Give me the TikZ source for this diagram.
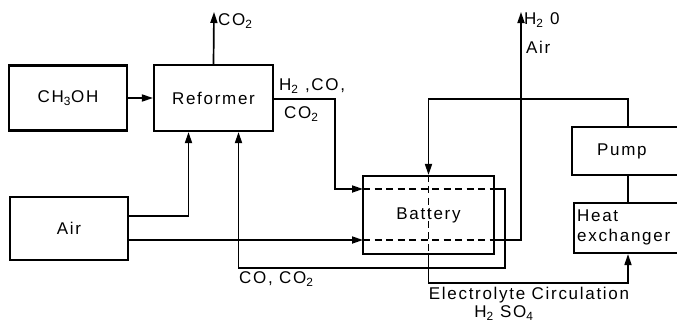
\documentclass[tikz,border=0pt]{standalone}
\usepackage{fontspec}
\setmainfont{Liberation Sans}[LetterSpace=10]
\usepackage{tikz}
\usetikzlibrary{positioning, arrows.meta}

\tikzset{
    box/.style={draw, line width=2.1pt, inner sep=0pt},
    flow/.style={line width=1.7pt, -{Triangle[length=11pt, width=7pt]}},
    pipe/.style={line width=1.7pt},
    chan/.style={line width=1.7pt, dash pattern=on 7pt off 4.5pt},
    lbl/.style={inner sep=0pt, anchor=west}
}

\begin{document}
\begin{tikzpicture}[x=1pt, y=-1pt, font=\fontsize{17}{20}\selectfont]
    \useasboundingbox (0,0) rectangle (677,327);

    % Boxes
    \node[box, minimum width=118pt, minimum height=65pt] (meth) at (68,98) {CH\textsubscript{3}OH};
    \node[box, minimum width=119pt, minimum height=66pt] (reform) at (213.5,98) {Reformer};
    \node[box, minimum width=118pt, minimum height=63pt] (air) at (69,228.5) {Air};
    \node[box, minimum width=131pt, minimum height=78pt] (batt) at (428.5,215) {Battery};
    \node[box, minimum width=112pt, minimum height=48pt] (pump) at (628,151) {};
    \node[box, minimum width=108pt, minimum height=50pt] (hx) at (628,228) {};
    \node[lbl] (pumptxt) at (597,151) {Pump};
    \node[lbl, align=left] (hxtxt) at (577,227) {Heat\\exchanger};

    % Channels through the battery
    \coordinate (anodeL) at (363,189);
    \coordinate (anodeR) at (494,189);
    \coordinate (cathL) at (363,240);
    \coordinate (cathR) at (494,240);
    \draw[chan] (anodeL) -- (anodeR);
    \draw[chan] (cathL) -- (cathR);
    \draw[chan] (batt.north) -- (batt.south);

    % Outlets
    \coordinate (co2out) at (214,12);
    \coordinate (h2oout) at (521,12);

    % Fuel side
    \draw[flow] (meth) -- (reform);
    \draw[flow] (reform.north) -- (co2out);
    \node[lbl] (co2top) at (218,21) {CO\textsubscript{2}};
    \draw[flow] (reform.east |- 0,99) -| (335,189) -- (anodeL);
    \node[lbl] (gas1) at (279,86) {H\textsubscript{2} ,CO,};
    \node[lbl] (gas2) at (284,114) {CO\textsubscript{2}};
    \draw[flow] (air.east |- 0,216) -| ([xshift=-25pt]reform.south);
    \draw[flow] (anodeR) -| (505,268) -| ([xshift=25pt]reform.south);
    \node[lbl] (recyc) at (239,279) {CO, CO\textsubscript{2}};

    % Air side
    \draw[flow] (air.east |- cathL) -- (cathL);
    \draw[flow] (cathR) -| (h2oout);
    \node[lbl] (h2o) at (524,20) {H\textsubscript{2} 0};
    \node[lbl] (airout) at (526,47) {Air};

    % Electrolyte loop
    \draw[flow] (pump.north) |- (batt.north |- 0,99) -- (batt.north);
    \draw[pipe] (pump.south) -- (hx.north);
    \draw[flow] (batt.south) -- ++(0,28) -| (hx.south);
    \node[inner sep=0pt] (elec) at (529,295) {Electrolyte Circulation};
    \node[inner sep=0pt] (acid) at (504,313) {H\textsubscript{2} SO\textsubscript{4}};
\end{tikzpicture}
\end{document}
